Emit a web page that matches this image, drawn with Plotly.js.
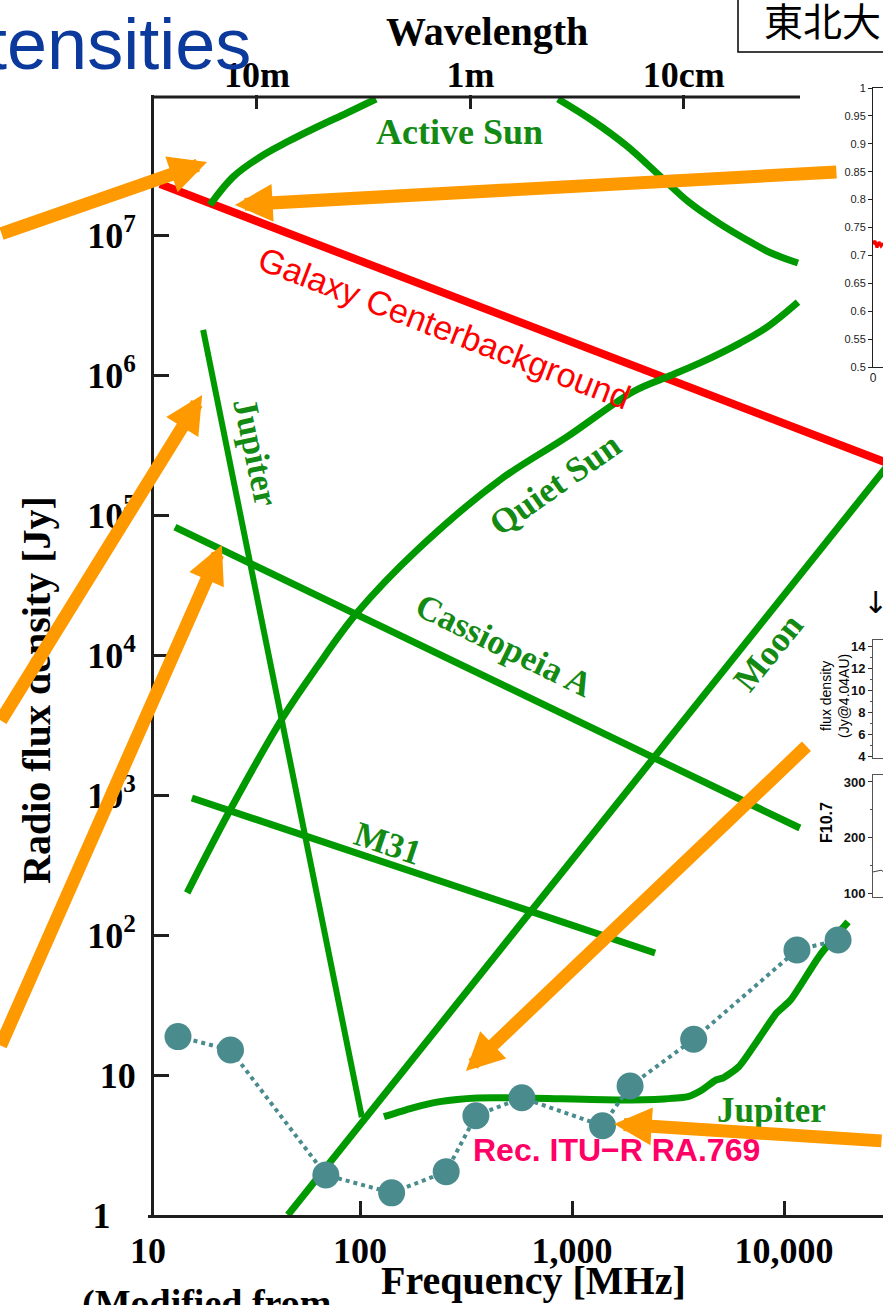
<!DOCTYPE html>
<html><head><meta charset="utf-8">
<script src="https://cdn.plot.ly/plotly-3.0.1.min.js"></script>
<style>html,body{margin:0;padding:0;background:#fff;overflow:hidden}</style>
</head><body><div id="chart" style="width:883px;height:1305px"></div>
<script>
// ---------------- data (frequency in MHz, flux density in Jy) ----------------
const activeSunFreq = [19.6, 25.2, 33.8, 45.3, 62.7, 86.8, 119, null, 859, 1256, 1815, 2600, 3606, 4989, 6683, 8690, 11640];
const activeSunFlux = [1.64e7, 2.60e7, 3.61e7, 4.62e7, 5.91e7, 7.44e7, 9.36e7, null, 9.36e7, 6.52e7, 4.32e7, 2.64e7, 1.69e7, 1.20e7, 9.21e6, 7.43e6, 6.31e6];
const galaxyFreq = [11.4, 35240];
const galaxyFlux = [2.31e7, 2.17e5];
const quietSunFreq = [15.3, 24.4, 43.4, 62.7, 96.8, 186, 457, 946, 1940, 2806, 4018, 6200, 8318, 11640];
const quietSunFlux = [200, 781, 3606, 8210, 2.0e4, 5.62e4, 1.78e5, 3.61e5, 7.6e5, 9.68e5, 1.22e6, 1.69e6, 2.2e6, 3.32e6];
const jupiterDecaFreq = [18.2, 102];
const jupiterDecaFlux = [2.1e6, 5.0];
const casAFreq = [13.4, 11880];
const casAFlux = [8.2e4, 581];
const m31Freq = [16.1, 2466];
const m31Flux = [952, 74.4];
const moonFreq = [45.7, 35240];
const moonFlux = [1.0, 2.91e5];
const jupiterFreq = [129.7, 175.8, 238, 356, 594, 1640, 2716, 3524, 4104, 4775, 5152, 6135, 7534, 9226, 10740, 14790, 20050];
const jupiterFlux = [5.04, 5.81, 6.45, 6.85, 6.85, 6.63, 6.74, 7.0, 7.81, 9.21, 9.52, 11.5, 17.8, 27.7, 34.3, 71.9, 124];
const ituFreq = [13.85, 24.5, 69.0, 141, 255, 352, 580, 1393, 1879, 3750, 11510, 17990];
const ituFlux = [18.8, 15.1, 1.93, 1.44, 2.04, 5.12, 6.88, 4.34, 8.35, 18.0, 78.1, 92.1];

// axis ticks
const freqTicks = [10, 100, 1000, 10000];
const freqTickText = ['10', '100', '1,000', '10,000'];
const wavelengthTicks = [30, 300, 3000];
const wavelengthTickText = ['10m', '1m', '10cm'];
const fluxTicks = [1, 10, 100, 1e3, 1e4, 1e5, 1e6, 1e7];
const fluxTickText = ['1\u2002\u2009', '10', '10<sup>2</sup>', '10<sup>3</sup>', '10<sup>4</sup>', '10<sup>5</sup>', '10<sup>6</sup>', '10<sup>7</sup>'];

// curve labels
const labelText = ['Active Sun', 'Jupiter', 'Quiet Sun', 'Cassiopeia A', 'Moon', 'M31', 'Jupiter'];
const labelFreq = [296, 32.0, 832, 478, 8414, 135.5, 8770];
const labelFlux = [5.45e7, 2.82e5, 1.64e5, 1.16e4, 1.05e4, 454, 5.62];
const labelAngle = [0, 78, -35, 26, -51, 18.6, 0];
const galaxyLabelFreq = 250, galaxyLabelFlux = 2.17e6;
const recLabelFreq = 1630, recLabelFlux = 2.91;

// inset data
const insetATime = [0, 200, 400, 600, 800, 1000];
const insetARatio = [0.72, 0.726, 0.714, 0.724, 0.717, 0.722];
const insetATicks = [0.5, 0.55, 0.6, 0.65, 0.7, 0.75, 0.8, 0.85, 0.9, 0.95, 1];
const insetATickText = ['0.5', '0.55', '0.6', '0.65', '0.7', '0.75', '0.8', '0.85', '0.9', '0.95', '1'];
const insetBTicks = [4, 6, 8, 10, 12, 14];
const insetCTime = [0, 400, 800, 1000];
const insetCF107 = [138, 140, 141, 139];
const insetCTicks = [100, 200, 300];

// pointer arrows (tip in data units, tail offset in px)
const arrowTipFreq = [19.0, 25.7, 18.0, 22.3, 316, 1578];
const arrowTipFlux = [3.32e7, 1.64e7, 7.2e5, 6.1e4, 10.7, 4.47];
const arrowTailDx = [-227, 603, -232, -237, 342, 286];
const arrowTailDy = [72, -33, 327, 502, -326, 17];

// ---------------- styling ----------------
const W = 883, H = 1305;
const fx = v => v / W, fy = v => 1 - v / H;
const GREEN = '#009900', TXTGREEN = '#138a13', SERIF = 'Liberation Serif, Times New Roman, serif', SANS = 'Liberation Sans, Arial, sans-serif';
const FRAME = '#1e1e1e';

function lineTrace(x, y, color, width, extra) {
  return Object.assign({type: 'scatter', mode: 'lines', x: x, y: y, line: {color: color, width: width}, hoverinfo: 'skip', showlegend: false}, extra || {});
}
const splineLine = {color: GREEN, width: 7, shape: 'spline', smoothing: 1};

const traces = [
  lineTrace(galaxyFreq, galaxyFlux, '#ff0000', 8, {name: 'Galaxy Center background'}),
  lineTrace(activeSunFreq, activeSunFlux, GREEN, 7, {name: 'Active Sun', connectgaps: false, line: splineLine}),
  lineTrace(quietSunFreq, quietSunFlux, GREEN, 7, {name: 'Quiet Sun', line: splineLine}),
  lineTrace(jupiterDecaFreq, jupiterDecaFlux, GREEN, 6, {name: 'Jupiter (decametric)'}),
  lineTrace(casAFreq, casAFlux, GREEN, 7, {name: 'Cassiopeia A'}),
  lineTrace(m31Freq, m31Flux, GREEN, 7, {name: 'M31'}),
  lineTrace(moonFreq, moonFlux, GREEN, 7, {name: 'Moon'}),
  lineTrace(jupiterFreq, jupiterFlux, GREEN, 7, {name: 'Jupiter', line: {color: GREEN, width: 7, shape: 'spline', smoothing: 0.6}}),
  {type: 'scatter', mode: 'lines+markers', x: ituFreq, y: ituFlux, name: 'Rec. ITU-R RA.769', hoverinfo: 'skip', showlegend: false,
   line: {color: '#4a8b8e', width: 4, dash: 'dot'}, marker: {color: '#4a8b8e', size: 27}},
  // wavelength axis carrier (no visible marks)
  {type: 'scatter', mode: 'lines', x: [], y: [], xaxis: 'x2', yaxis: 'y', hoverinfo: 'skip', showlegend: false},
  // insets
  {type: 'scatter', mode: 'lines', x: insetATime, y: insetARatio, xaxis: 'x3', yaxis: 'y3', line: {color: '#ff0000', width: 3}, hoverinfo: 'skip', showlegend: false},
  {type: 'scatter', mode: 'lines', x: [], y: [], xaxis: 'x4', yaxis: 'y4', hoverinfo: 'skip', showlegend: false},
  {type: 'scatter', mode: 'lines', x: insetCTime, y: insetCF107, xaxis: 'x5', yaxis: 'y5', line: {color: '#444', width: 1}, hoverinfo: 'skip', showlegend: false}
];

const annotations = [];
function paperText(x, y, text, font, extra) {
  annotations.push(Object.assign({xref: 'paper', yref: 'paper', x: fx(x), y: fy(y), text: text, showarrow: false, xanchor: 'center', yanchor: 'middle', font: font}, extra || {}));
}
// titles
paperText(487, 32, 'Wavelength', {family: SERIF, size: 40, color: '#000', weight: 'bold'});
paperText(533, 1280, 'Frequency [MHz]', {family: SERIF, size: 40, color: '#000', weight: 'bold'});
paperText(36, 690, 'Radio flux density [Jy]', {family: SERIF, size: 40, color: '#000', weight: 'bold'}, {textangle: -90});
paperText(80, 1303, '(Modified from', {family: SERIF, size: 38, color: '#000', weight: 'bold'}, {xanchor: 'left'});
paperText(253, 44, 'Intensities', {family: SANS, size: 72, color: '#0b3a9c'}, {xanchor: 'right'});
paperText(762, 19, '東北大', {family: 'Noto Sans CJK JP', size: 39, color: '#000'}, {xanchor: 'left'});
// inset texts
paperText(875, 602, '↓', {family: 'DejaVu Sans', size: 30, color: '#000'});
paperText(835, 696, 'flux density<br>(Jy@4.04AU)', {family: SANS, size: 14, color: '#000'}, {textangle: -90});
paperText(826, 823, 'F10.7', {family: SANS, size: 16, color: '#000', weight: 'bold'}, {textangle: -90});
// curve labels
labelText.forEach((t, i) => annotations.push({xref: 'x', yref: 'y', x: Math.log10(labelFreq[i]), y: Math.log10(labelFlux[i]), text: t, textangle: labelAngle[i], showarrow: false,
  xanchor: 'center', yanchor: 'middle', font: {family: SERIF, size: i === 0 ? 36 : 35, color: TXTGREEN, weight: 'bold'}}));
annotations.push({xref: 'x', yref: 'y', x: Math.log10(galaxyLabelFreq), y: Math.log10(galaxyLabelFlux), text: 'Galaxy Centerbackground', textangle: 21, showarrow: false,
  xanchor: 'center', yanchor: 'middle', font: {family: SANS, size: 34, color: '#ff0000'}});
annotations.push({xref: 'x', yref: 'y', x: Math.log10(recLabelFreq), y: Math.log10(recLabelFlux), text: 'Rec. ITU−R RA.769', showarrow: false,
  xanchor: 'center', yanchor: 'middle', font: {family: SANS, size: 32, color: '#ff0066', weight: 'bold'}});
// arrows
arrowTipFreq.forEach((f, i) => annotations.push({xref: 'x', yref: 'y', x: Math.log10(f), y: Math.log10(arrowTipFlux[i]), text: '', showarrow: true,
  ax: arrowTailDx[i], ay: arrowTailDy[i], arrowhead: 2, arrowsize: 0.58, arrowwidth: 13, arrowcolor: '#ff9900', standoff: 0}));

const shapes = [
  {type: 'line', xref: 'paper', yref: 'paper', x0: fx(152), x1: fx(800), y0: fy(97), y1: fy(97), line: {color: FRAME, width: 3}},
  {type: 'rect', xref: 'paper', yref: 'paper', x0: fx(738), x1: fx(900), y0: fy(52), y1: fy(-5), line: {color: '#000', width: 1.5}, fillcolor: 'rgba(255,255,255,0)', layer: 'below'}
];

const tickFont = {family: SERIF, size: 36, color: '#000', weight: 'bold'};
const xr = [1, 1 + 735 / 212];
const xrTop = [0.967, 4.41];
const layout = {
  width: W, height: H, margin: {l: 0, r: 0, t: 0, b: 0, autoexpand: false}, paper_bgcolor: '#fff', plot_bgcolor: 'rgba(0,0,0,0)', showlegend: false,
  xaxis: {type: 'log', domain: [fx(148), 1], range: xr, anchor: 'y', tickmode: 'array', tickvals: freqTicks, ticktext: freqTickText,
    ticks: 'inside', ticklen: 14, tickwidth: 3, tickcolor: FRAME, showline: true, linecolor: FRAME, linewidth: 3, showgrid: false, zeroline: false,
    tickfont: tickFont, ticklabelstandoff: 2},
  xaxis2: {type: 'log', overlaying: 'x', side: 'top', anchor: 'y', range: xrTop, tickmode: 'array', tickvals: wavelengthTicks, ticktext: wavelengthTickText,
    ticks: 'inside', ticklen: 14, tickwidth: 3, tickcolor: FRAME, showline: false, showgrid: false, zeroline: false, tickfont: tickFont, ticklabelstandoff: 0},
  yaxis: {type: 'log', domain: [fy(1215), fy(95)], range: [0, 8], anchor: 'free', position: fx(152), tickmode: 'array', tickvals: fluxTicks, ticktext: fluxTickText,
    ticks: 'inside', ticklen: 15, tickwidth: 3, tickcolor: FRAME, showline: true, linecolor: FRAME, linewidth: 3, showgrid: false, zeroline: false,
    tickfont: tickFont, ticklabelstandoff: 8},
  // inset A
  xaxis3: {domain: [fx(873), 1], range: [0, 1000], anchor: 'y3', showline: true, mirror: true, linecolor: '#222', linewidth: 1, showgrid: false, zeroline: false,
    tickmode: 'array', tickvals: [0], ticktext: ['0'], ticks: '', tickfont: {family: SANS, size: 12, color: '#222'}},
  yaxis3: {domain: [fy(367), fy(88)], range: [0.5, 1], anchor: 'x3', showline: true, mirror: true, linecolor: '#222', linewidth: 1, showgrid: false, zeroline: false,
    tickmode: 'array', tickvals: insetATicks, ticktext: insetATickText, ticks: 'outside', ticklen: 4, tickcolor: '#222', tickfont: {family: SANS, size: 11, color: '#222'}},
  // inset B
  xaxis4: {domain: [fx(873), 1], range: [0, 1000], anchor: 'y4', showline: true, mirror: true, linecolor: '#555', linewidth: 1, showgrid: false, zeroline: false, showticklabels: false, ticks: ''},
  yaxis4: {domain: [fy(758), fy(640)], range: [3.82, 14.55], anchor: 'x4', showline: true, mirror: true, linecolor: '#555', linewidth: 1, showgrid: false, zeroline: false,
    tickmode: 'array', tickvals: insetBTicks, ticks: 'outside', ticklen: 4, tickcolor: '#333', minor: {dtick: 1, ticks: 'outside', ticklen: 2, tickcolor: '#555'},
    tickfont: {family: SANS, size: 13, color: '#111', weight: 'bold'}},
  // inset C
  xaxis5: {domain: [fx(873), 1], range: [0, 1000], anchor: 'y5', showline: true, mirror: true, linecolor: '#555', linewidth: 1, showgrid: false, zeroline: false, showticklabels: false, ticks: ''},
  yaxis5: {domain: [fy(897), fy(775)], range: [92.8, 312.6], anchor: 'x5', showline: true, mirror: true, linecolor: '#555', linewidth: 1, showgrid: false, zeroline: false,
    tickmode: 'array', tickvals: insetCTicks, ticks: 'outside', ticklen: 4, tickcolor: '#333', minor: {dtick: 50, ticks: 'outside', ticklen: 2, tickcolor: '#555'},
    tickfont: {family: SANS, size: 13, color: '#111', weight: 'bold'}},
  annotations: annotations,
  shapes: shapes
};

Plotly.newPlot('chart', traces, layout, {displayModeBar: false, staticPlot: true});
</script>
</body></html>
